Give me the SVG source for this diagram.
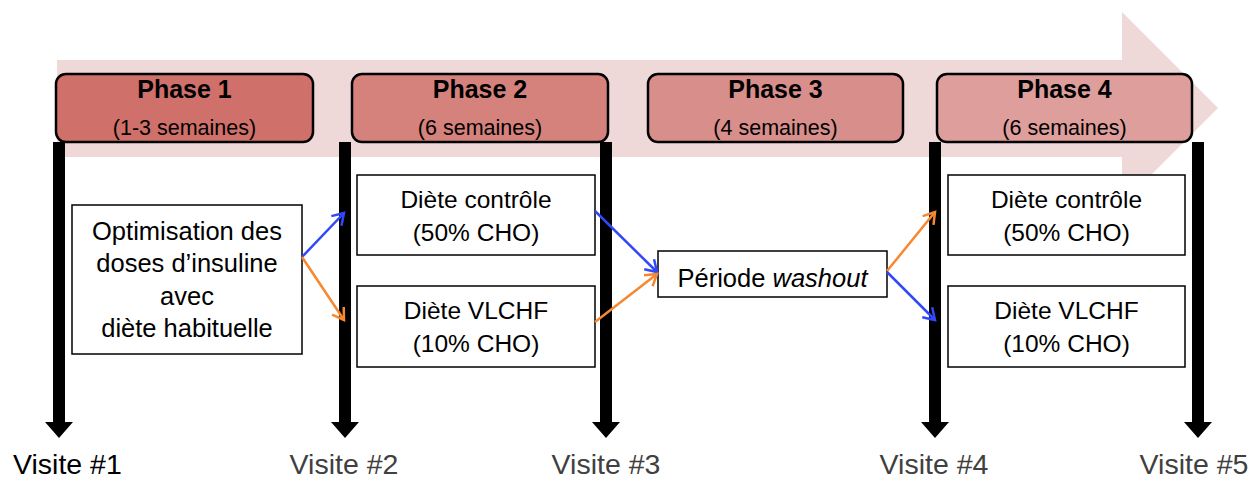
<svg xmlns="http://www.w3.org/2000/svg" width="1251" height="478" viewBox="0 0 1251 478">
  <style>
    text { font-family: "Liberation Sans", Arial, sans-serif; fill: #000; text-anchor: middle; }
    .phase { stroke: #000; stroke-width: 2.5; }
    .title { font-weight: bold; font-size: 25px; }
    .sub { font-size: 21.5px; }
    .box { fill: #fff; stroke: #000; stroke-width: 1.5; }
    .lbl { font-size: 25.5px; }
    .diet { font-size: 24.5px; }
    .bar { fill: #000; }
    .visit { font-size: 28.5px; fill: #404040; }
    .blue { stroke: #3048fa; stroke-width: 2.5; fill: none; marker-end: url(#headBlue); }
    .orange { stroke: #f7882f; stroke-width: 2.5; fill: none; marker-end: url(#headOrange); }
  </style>
  <defs>
    <marker id="headBlue" markerUnits="userSpaceOnUse" markerWidth="16" markerHeight="16" refX="13" refY="8" orient="auto" viewBox="0 0 16 16">
      <path d="M2,1 L13,8 L2,15" fill="none" stroke="#3048fa" stroke-width="2.5" stroke-linejoin="miter"/>
    </marker>
    <marker id="headOrange" markerUnits="userSpaceOnUse" markerWidth="16" markerHeight="16" refX="13" refY="8" orient="auto" viewBox="0 0 16 16">
      <path d="M2,1 L13,8 L2,15" fill="none" stroke="#f7882f" stroke-width="2.5" stroke-linejoin="miter"/>
    </marker>
  </defs>

  <!-- timeline arrow in the background -->
  <path id="timeline" d="M57,60 H1122 V12 L1218,108 L1122,204 V157 H57 Z" fill="#eed8d8"/>

  <!-- visit bars with arrowheads -->
  <g id="visits">
    <g id="visit1">
      <rect class="bar" x="53" y="142" width="12" height="281"/>
      <polygon class="bar" points="45,422 73,422 59,438"/>
      <text x="13" y="474" style="font-size:28.5px;fill:#000;text-anchor:start">Visite #1</text>
    </g>
    <g id="visit2">
      <rect class="bar" x="339" y="142" width="12" height="281"/>
      <polygon class="bar" points="331,422 359,422 345,438"/>
      <text class="visit" x="344" y="474">Visite #2</text>
    </g>
    <g id="visit3">
      <rect class="bar" x="600" y="142" width="12" height="281"/>
      <polygon class="bar" points="592,422 620,422 606,438"/>
      <text class="visit" x="606" y="474">Visite #3</text>
    </g>
    <g id="visit4">
      <rect class="bar" x="929" y="142" width="12" height="281"/>
      <polygon class="bar" points="921,422 949,422 935,438"/>
      <text class="visit" x="934" y="474">Visite #4</text>
    </g>
    <g id="visit5">
      <rect class="bar" x="1192" y="142" width="12" height="281"/>
      <polygon class="bar" points="1184,422 1212,422 1198,438"/>
      <text class="visit" x="1194" y="474">Visite #5</text>
    </g>
  </g>

  <!-- phase headers -->
  <g id="phase1">
    <rect class="phase" x="56" y="74" width="257" height="68" rx="10" fill="#d0706a"/>
    <text class="title" x="184.5" y="98">Phase 1</text>
    <text class="sub" x="184.5" y="135">(1-3 semaines)</text>
  </g>
  <g id="phase2">
    <rect class="phase" x="352" y="74" width="256" height="68" rx="10" fill="#d5827d"/>
    <text class="title" x="480" y="98">Phase 2</text>
    <text class="sub" x="480" y="135">(6 semaines)</text>
  </g>
  <g id="phase3">
    <rect class="phase" x="648" y="74" width="255" height="68" rx="10" fill="#d88e8b"/>
    <text class="title" x="775.5" y="98">Phase 3</text>
    <text class="sub" x="775.5" y="135">(4 semaines)</text>
  </g>
  <g id="phase4">
    <rect class="phase" x="937" y="74" width="255" height="68" rx="10" fill="#de9e9c"/>
    <text class="title" x="1064.5" y="98">Phase 4</text>
    <text class="sub" x="1064.5" y="135">(6 semaines)</text>
  </g>

  <!-- activity boxes -->
  <g id="optimisation">
    <rect class="box" x="72" y="205" width="230" height="149"/>
    <text class="lbl" x="187" y="240">Optimisation des</text>
    <text class="lbl" x="187" y="272">doses d’insuline</text>
    <text class="lbl" x="187" y="305">avec</text>
    <text class="lbl" x="187" y="337">diète habituelle</text>
  </g>
  <g id="controle1">
    <rect class="box" x="357" y="175" width="238" height="80"/>
    <text class="diet" x="476" y="208">Diète contrôle</text>
    <text class="diet" x="476" y="241">(50% CHO)</text>
  </g>
  <g id="vlchf1">
    <rect class="box" x="357" y="286" width="238" height="81"/>
    <text class="diet" x="476" y="319">Diète VLCHF</text>
    <text class="diet" x="476" y="352">(10% CHO)</text>
  </g>
  <g id="washout">
    <rect class="box" x="658" y="251" width="229" height="46"/>
    <text class="lbl" x="772.5" y="287">Période <tspan font-style="italic">washout</tspan></text>
  </g>
  <g id="controle2">
    <rect class="box" x="948" y="175" width="237" height="80"/>
    <text class="diet" x="1066.5" y="208">Diète contrôle</text>
    <text class="diet" x="1066.5" y="241">(50% CHO)</text>
  </g>
  <g id="vlchf2">
    <rect class="box" x="948" y="286" width="237" height="81"/>
    <text class="diet" x="1066.5" y="319">Diète VLCHF</text>
    <text class="diet" x="1066.5" y="352">(10% CHO)</text>
  </g>

  <!-- connectors -->
  <g id="connectors">
    <line class="blue" x1="302" y1="257" x2="344" y2="213"/>
    <line class="orange" x1="302" y1="257" x2="344" y2="320"/>
    <line class="blue" x1="595" y1="211" x2="657" y2="272"/>
    <line class="orange" x1="595" y1="322" x2="657" y2="274"/>
    <line class="orange" x1="887" y1="271" x2="935" y2="212"/>
    <line class="blue" x1="887" y1="272" x2="935" y2="320"/>
  </g>
</svg>
